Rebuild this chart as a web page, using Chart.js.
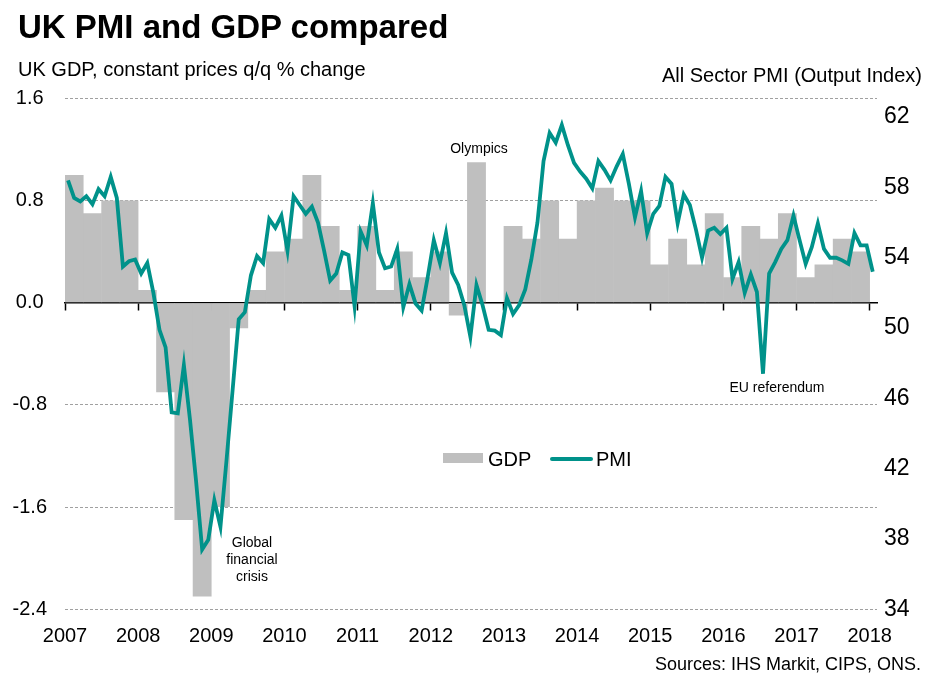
<!DOCTYPE html>
<html>
<head>
<meta charset="utf-8">
<script src="https://cdn.jsdelivr.net/npm/chart.js@4"></script>
<style>
  body { margin: 0; background: #fff; font-family: "Liberation Sans", Arial, sans-serif; }
  #wrap { position: relative; width: 931px; height: 685px; overflow: hidden; }
  #wrap canvas { position: absolute; left: 0; top: 0; }
  .t { position: absolute; white-space: nowrap; line-height: 1; color: #000; }
  .note { position: absolute; font-size: 14px; line-height: 17px; text-align: center; color: #000; }
</style>
</head>
<body>
<div id="wrap">
  <canvas id="grafico"></canvas>
  <div class="t" style="left:18px; top:10px; font-size:33px; font-weight:bold;">UK PMI and GDP compared</div>
  <div class="t" style="left:18px; top:59px; font-size:20px;">UK GDP, constant prices q/q % change</div>
  <div class="t" style="right:9px; top:65px; font-size:20px;">All Sector PMI (Output Index)</div>
  <div class="t" style="right:10px; top:655px; font-size:18px;">Sources: IHS Markit, CIPS, ONS.</div>

  <!-- legenda -->
  <div style="position:absolute; left:443px; top:453px; width:40px; height:10px; background:#bfbfbf;"></div>
  <div class="t" style="left:488px; top:449px; font-size:20px;">GDP</div>
  <div style="position:absolute; left:550px; top:457px; width:43px; height:4px; background:#00928a; border-radius:2px;"></div>
  <div class="t" style="left:596px; top:449px; font-size:20px;">PMI</div>

  <!-- anotações -->
  <div class="note" style="left:439px; top:140px; width:80px;">Olympics</div>
  <div class="note" style="left:212px; top:534px; width:80px;">Global<br>financial<br>crisis</div>
  <div class="note" style="left:717px; top:379px; width:120px;">EU referendum</div>
</div>
<script>
// Dados
const firstYear = 2007;

// PIB trimestral, 2007 T1 - 2017 T4
const gdp = [
    1.0, 0.7, 0.8, 0.8,
    0.1, -0.7, -1.7, -2.3,
    -1.6, -0.2, 0.1, 0.4,
    0.5, 1.0, 0.6, 0.1,
    0.6, 0.1, 0.4, 0.2,
    0.4, -0.1, 1.1, 0.0,
    0.6, 0.5, 0.8, 0.5,
    0.8, 0.9, 0.8, 0.8,
    0.3, 0.5, 0.3, 0.7,
    0.2, 0.6, 0.5, 0.7,
    0.2, 0.3, 0.5, 0.4
];

// PMI mensal, jan 2007 - jan 2018
const pmi = [
    58.4, 57.4, 57.2, 57.5, 57.05, 57.9, 57.5, 58.6, 57.4, 53.5, 53.8, 53.9,
    53.1, 53.7, 52.0, 49.9, 48.9, 45.2, 45.15, 47.9, 44.8, 41.3, 37.4, 37.95,
    40.2, 38.7, 42.5, 46.5, 50.5, 50.9, 53.0, 54.1, 53.7, 56.2, 55.7, 56.4,
    54.4, 57.5, 57.0, 56.5, 56.9, 56.0, 54.4, 52.7, 53.1, 54.3, 54.15, 51.25,
    55.5, 54.7, 57.1, 54.3, 53.4, 53.5, 54.5, 51.2, 52.5, 51.4, 51.0, 52.9,
    55.0, 53.7, 55.4, 53.15, 52.45, 51.3, 49.5, 52.45, 51.3, 49.9, 49.85, 49.6,
    51.7, 50.8, 51.3, 52.2, 53.9, 56.0, 59.5, 61.1, 60.55, 61.55, 60.4, 59.4,
    58.9, 58.5, 57.95, 59.5, 59.0, 58.4, 59.2, 59.9, 58.2, 56.3, 57.8, 55.4,
    56.5, 56.95, 58.6, 58.2, 55.95, 57.6, 57.0, 55.6, 54.0, 55.55, 55.7, 55.35,
    55.7, 52.8, 53.75, 52.0, 53.05, 52.05, 47.4, 53.1, 53.75, 54.5, 55.0, 56.4,
    55.0, 53.65, 54.6, 55.95, 54.5, 54.0, 54.0, 53.85, 53.65, 55.4, 54.7, 54.7,
    53.2
];

const yearTicks = [2007, 2008, 2009, 2010, 2011, 2012, 2013, 2014, 2015, 2016, 2017, 2018];
const gdpTicks = [-2.4, -1.6, -0.8, 0, 0.8, 1.6];
const pmiTicks = [34, 38, 42, 46, 50, 54, 58, 62];

const fonte = '"Liberation Sans", Arial, sans-serif';
const cinza = "#bfbfbf";
const verde = "#00928a";

// trimestres e meses no meio de cada período
const gdpPontos = gdp.map((v, i) => ({ x: firstYear + (i + 0.5) / 4, y: v }));
const pmiPontos = pmi.map((v, i) => ({ x: firstYear + (i + 0.5) / 12, y: v }));

function fixarTicks(lista) {
    return scale => { scale.ticks = lista.map(v => ({ value: v })); };
}

new Chart(document.getElementById("grafico"), {
    type: "bar",
    data: {
        datasets: [
            {
                type: "line",
                label: "PMI",
                data: pmiPontos,
                xAxisID: "x",
                yAxisID: "y2",
                borderColor: verde,
                borderWidth: 3.8,
                pointRadius: 0,
                tension: 0,
                order: 0
            },
            {
                type: "bar",
                label: "GDP",
                data: gdpPontos,
                xAxisID: "x",
                yAxisID: "y",
                backgroundColor: cinza,
                borderWidth: 0,
                categoryPercentage: 1,
                barPercentage: 1.03,
                order: 1
            }
        ]
    },
    options: {
        responsive: true,
        maintainAspectRatio: false,
        animation: false,
        layout: { padding: { top: 98.3, bottom: 0, left: 0, right: 0 } },
        plugins: {
            legend: { display: false },
            tooltip: { enabled: false }
        },
        scales: {
            // eixo do zero, com as marcas dos anos
            x: {
                type: "linear",
                position: { y: 0 },
                min: 2007,
                max: 2018.1,
                offset: false,
                z: 1,
                afterBuildTicks: fixarTicks(yearTicks),
                ticks: { display: false },
                grid: { drawOnChartArea: false, drawTicks: true, tickLength: 7, tickColor: "#000", tickWidth: 1.5, offset: false },
                border: { display: true, color: "#000", width: 1.5 }
            },
            // rótulos dos anos em baixo
            xb: {
                type: "linear",
                position: "bottom",
                min: 2007,
                max: 2018.1,
                offset: false,
                afterBuildTicks: fixarTicks(yearTicks),
                afterFit: s => { s.height = 75.7; },
                ticks: { color: "#000", font: { family: fonte, size: 20 }, padding: 15, maxRotation: 0, autoSkip: false, callback: v => String(v) },
                grid: { display: false, drawTicks: false },
                border: { display: false }
            },
            y: {
                type: "linear",
                position: "left",
                min: -2.4,
                max: 1.6,
                afterBuildTicks: fixarTicks(gdpTicks),
                afterFit: s => { s.width = 65; },
                ticks: { color: "#000", font: { family: fonte, size: 20 }, padding: 18, crossAlign: "center", callback: v => v.toFixed(1) },
                grid: { drawTicks: false, color: c => (c.tick && c.tick.value === 0 ? "rgba(0,0,0,0)" : "#a0a0a0"), lineWidth: 1 },
                border: { display: false, dash: [3, 2] }
            },
            y2: {
                type: "linear",
                position: "right",
                min: 34,
                max: 63.07,
                afterBuildTicks: fixarTicks(pmiTicks),
                afterFit: s => { s.width = 54; },
                ticks: { color: "#000", font: { family: fonte, size: 23 }, padding: 7, callback: v => String(v) },
                grid: { display: false, drawTicks: false },
                border: { display: false }
            }
        }
    }
});
</script>
</body>
</html>
